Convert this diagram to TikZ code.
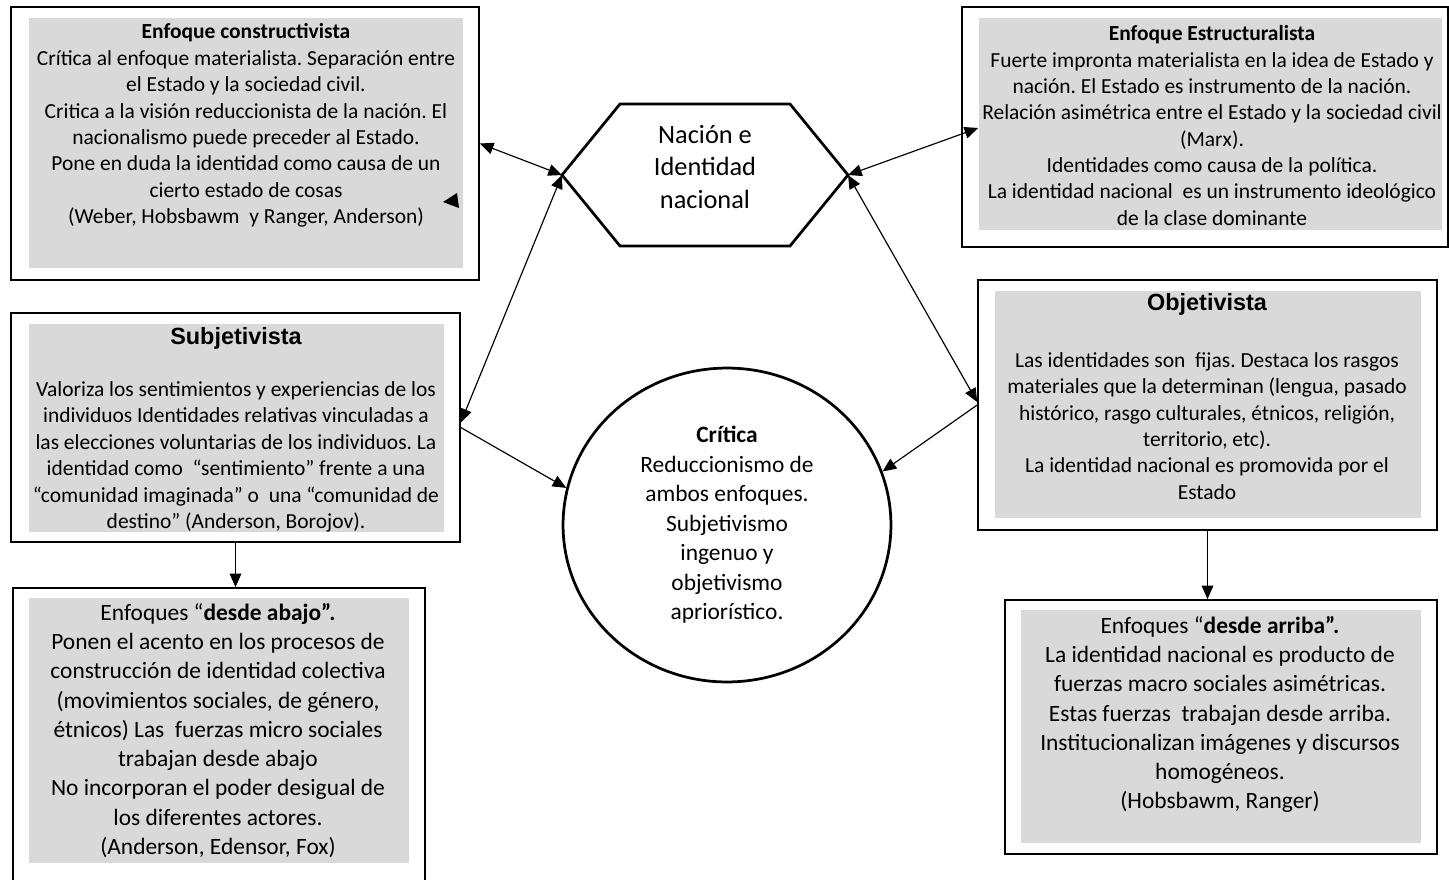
\documentclass[tikz,border=0pt]{standalone}
\usepackage{fontspec}
\setmainfont{Carlito}
\newfontfamily\arialfont{Liberation Sans}
\usepackage{xcolor}
\usetikzlibrary{shapes.geometric,arrows.meta,positioning,calc}
\definecolor{boxgray}{HTML}{D9D9D9}
\frenchspacing

\begin{document}
\begin{tikzpicture}[x=0.018cm, y=-0.018cm,
        boxframe/.style={draw, line width=0.9pt, inner sep=0pt},
        boxfill/.style={fill=boxgray, inner sep=0pt},
        boxtext/.style={align=center, inner sep=0pt, font=\fontsize{11}{13.5}\selectfont},
        bigtext/.style={align=center, inner sep=0pt, font=\fontsize{12}{15}\selectfont},
        link/.style={line width=0.6pt, >={Triangle[length=7pt, width=6pt]}}]
        \useasboundingbox (0,0) rectangle (1449,879);

        % outer frames
        \node[boxframe, minimum width=8.424cm, minimum height=4.914cm] (constr) at (245,143.5) {};
        \node[boxframe, minimum width=8.748cm, minimum height=4.32cm] (estruct) at (1205,127) {};
        \node[boxframe, minimum width=8.082cm, minimum height=4.122cm] (subj) at (235.5,427.5) {};
        \node[boxframe, minimum width=8.262cm, minimum height=4.5cm] (obj) at (1207.5,405) {};
        \node[boxframe, minimum width=7.416cm, minimum height=5.616cm] (abajo) at (219,744) {};
        \node[boxframe, minimum width=7.776cm, minimum height=4.572cm] (arriba) at (1221,727) {};

        % gray backgrounds
        \node[boxfill, minimum width=7.812cm, minimum height=4.5cm] (constrbg) at (246,143) {};
        \node[boxfill, minimum width=8.334cm, minimum height=3.816cm] (estructbg) at (1210.5,124) {};
        \node[boxfill, minimum width=7.47cm, minimum height=3.744cm] (subjbg) at (236.5,428) {};
        \node[boxfill, minimum width=7.668cm, minimum height=4.086cm] (objbg) at (1208,404.5) {};
        \node[boxfill, minimum width=6.84cm, minimum height=4.77cm] (abajobg) at (219,730.5) {};
        \node[boxfill, minimum width=7.2cm, minimum height=4.194cm] (arribabg) at (1221,726.5) {};

        % texts
        \node[boxtext] (constrtxt) at (246,125.5) {\textbf{Enfoque constructivista}\\Crítica al enfoque materialista. Separación entre\\el Estado y la sociedad civil.\\Critica a la visión reduccionista de la nación. El\\nacionalismo puede preceder al Estado.\\Pone en duda la identidad como causa de un\\cierto estado de cosas\\(Weber, Hobsbawm~ y Ranger, Anderson)};
        \node[boxtext] (estructtxt) at (1212,125.5) {\textbf{Enfoque Estructuralista}\\Fuerte impronta materialista en la idea de Estado y\\nación. El Estado es instrumento de la nación.\\Relación asimétrica entre el Estado y la sociedad civil\\(Marx).\\Identidades como causa de la política.\\La identidad nacional~ es un instrumento ideológico\\de la clase dominante};
        \node[boxtext] (subjtxt) at (236,430) {{\arialfont\bfseries\fontsize{12}{13.5}\selectfont Subjetivista}\\[13pt]Valoriza los sentimientos y experiencias de los\\individuos Identidades relativas vinculadas a\\las elecciones voluntarias de los individuos. La\\identidad como~ “sentimiento” frente a una\\“comunidad imaginada” o~ una “comunidad de\\destino” (Anderson, Borojov).};
        \node[boxtext] (objtxt) at (1207,396.5) {{\arialfont\bfseries\fontsize{12}{13.5}\selectfont Objetivista}\\[15.5pt]Las identidades son~ fijas. Destaca los rasgos\\materiales que la determinan (lengua, pasado\\histórico, rasgo culturales, étnicos, religión,\\territorio, etc).\\La identidad nacional es promovida por el\\Estado};
        \node[bigtext] (abajotxt) at (218,730.5) {Enfoques “\textbf{desde abajo”.}\\Ponen el acento en los procesos de\\construcción de identidad colectiva\\(movimientos sociales, de género,\\étnicos) Las~ fuerzas micro sociales\\trabajan desde abajo\\No incorporan el poder desigual de\\los diferentes actores.\\(Anderson, Edensor, Fox)};
        \node[bigtext] (arribatxt) at (1220,714.5) {Enfoques “\textbf{desde arriba”.}\\La identidad nacional es producto de\\fuerzas macro sociales asimétricas.\\Estas fuerzas~ trabajan desde arriba.\\Institucionalizan imágenes y discursos\\homogéneos.\\(Hobsbawm, Ranger)};

        % central shapes
        \coordinate (nacionW) at (562,175);
        \coordinate (nacionE) at (848,175);
        \draw[line width=1.4pt] (nacionW) -- (620,104) -- (790,104) -- (nacionE) -- (790,246) -- (620,246) -- cycle;
        \node[align=center, inner sep=0pt, font=\fontsize{13.5}{16.6}\selectfont] (nacion) at (705,167) {Nación e\\Identidad\\nacional};
        \node[ellipse, draw, line width=1.4pt, minimum width=5.904cm, minimum height=5.652cm, inner sep=0pt, align=center, font=\fontsize{12}{15.1}\selectfont] (critica) at (727,525) {\textbf{Crítica}\\Reduccionismo de\\ambos enfoques.\\Subjetivismo\\ingenuo y\\objetivismo\\apriorístico.};

        % connectors
        \draw[link, <->] (constr.east) -- (nacionW);
        \draw[link, <->] ($(subj.east)+(0,-5)$) -- (nacionW);
        \draw[link, <->] (nacionE) -- ($(estruct.west)+(17,1)$);
        \draw[link, <->] (nacionE) -- ($(obj.west)+(0,-3)$);
        \draw[link, ->] (subj.east) -- (critica.167);
        \draw[link, ->] (obj.west) -- (critica.19);
        \draw[link, ->] (subj.south) -- (subj.south |- abajo.north);
        \draw[link, ->] (obj.south) -- (obj.south |- arriba.north);
        \fill (443,202) -- (457,193) -- (459,208) -- cycle;
    \end{tikzpicture}
\end{document}
